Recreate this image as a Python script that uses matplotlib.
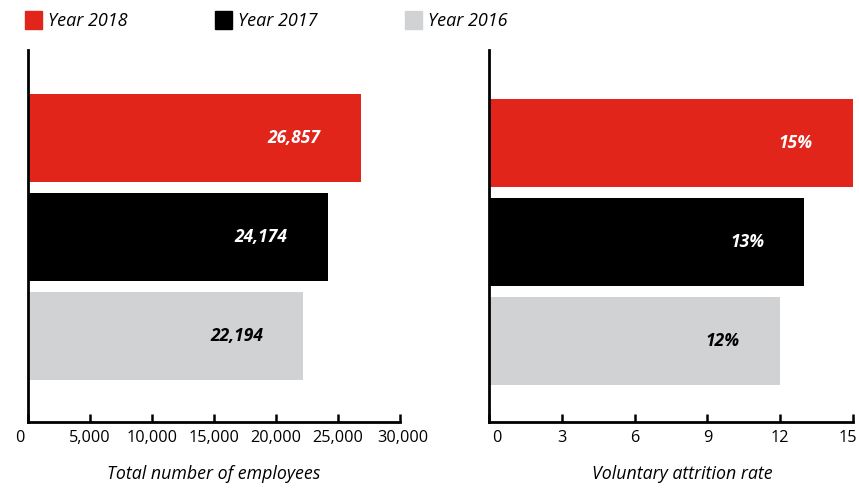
import matplotlib.pyplot as plt
from matplotlib.transforms import ScaledTranslation

# Data
years = ['Year 2018', 'Year 2017', 'Year 2016']
colors = ['#e1251b', '#000000', '#d1d2d4']
label_colors = ['white', 'white', 'black']
employees = [26857, 24174, 22194]
employee_labels = ['26,857', '24,174', '22,194']
attrition = [15, 13, 12]
attrition_labels = ['15%', '13%', '12%']

plt.rcParams['font.family'] = ['Open Sans', 'DejaVu Sans']

fig = plt.figure(figsize=(8.59, 4.92), dpi=100)
ax1 = fig.add_axes([28/859, 1-422/492, 372/859, 372/492])
ax2 = fig.add_axes([489/859, 1-422/492, 364/859, 372/492])

def gambar_panel(ax, nilai, label, xlim, xticks, ticklabels, judul, ylim):
    pos = range(len(nilai))
    ax.barh(pos, nilai, height=0.89, color=colors, clip_on=False)
    for p, v, t, c in zip(pos, nilai, label, label_colors):
        ax.annotate(t, (v, p), xytext=(-29, 0), textcoords='offset points',
                    ha='right', va='center', color=c, fontsize=12.5,
                    fontweight='bold', fontstyle='italic')
    ax.set_ylim(*ylim)
    ax.set_xlim(*xlim)
    ax.set_xticks(xticks)
    ax.set_xticklabels(ticklabels, fontsize=11.7)
    ax.set_yticks([])
    for s in ['top', 'right']:
        ax.spines[s].set_visible(False)
    for s in ['left', 'bottom']:
        ax.spines[s].set_linewidth(2)
    ax.tick_params(axis='x', direction='in', length=6, width=1.8, pad=6)
    ax.set_xlabel(judul, fontsize=12.8, fontstyle='italic')

gambar_panel(ax1, employees, employee_labels, (0, 30000),
             [0, 5000, 10000, 15000, 20000, 25000, 30000],
             ['0', '5,000', '10,000', '15,000', '20,000', '25,000', '30,000'],
             'Total number of employees', (2.87, -0.89))
gambar_panel(ax2, attrition, attrition_labels, (0, 15),
             [0, 3, 6, 9, 12, 15], ['0', '3', '6', '9', '12', '15'],
             'Voluntary attrition rate', (2.82, -0.94))
ax1.xaxis.set_label_coords(0.5, -0.115)
ax2.xaxis.set_label_coords(0.53, -0.115)

# geser label ujung
def geser(lbl, dx):
    lbl.set_transform(lbl.get_transform() + ScaledTranslation(dx/100, 0, fig.dpi_scale_trans))

geser(ax1.get_xticklabels()[0], -8)
geser(ax1.get_xticklabels()[-1], 3)
geser(ax2.get_xticklabels()[0], 8)
geser(ax2.get_xticklabels()[-1], -5)

# legenda manual
for i, (y, c) in enumerate(zip(years, colors)):
    x0 = 25 + i * 190
    fig.patches.append(plt.Rectangle((x0/859, 1-29/492), 17/859, 18/492,
                                     color=c, transform=fig.transFigure, figure=fig))
    fig.text((x0 + 23)/859, 1-21/492, y, fontsize=13, fontstyle='italic', va='center')

fig.savefig('out.png', dpi=100)
